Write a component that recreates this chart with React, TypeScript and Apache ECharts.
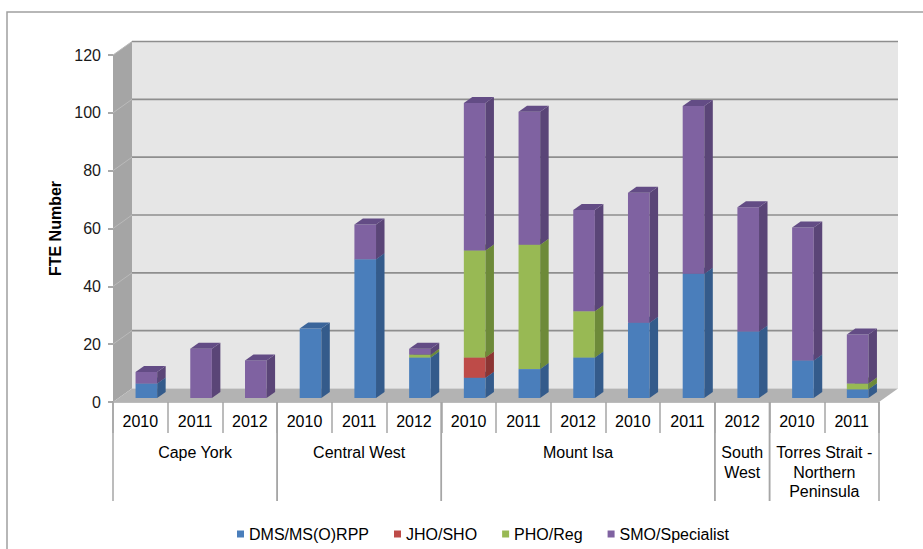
import React, { useEffect, useRef } from 'react';
import * as echarts from 'echarts';

// ---------- data ----------
const years = ['2010', '2011', '2012', '2010', '2011', '2012', '2010', '2011', '2012', '2010', '2011', '2012', '2010', '2011'];
const groupNames = ['Cape York', 'Central West', 'Mount Isa', 'South\nWest', 'Torres Strait -\nNorthern\nPeninsula'];
const groupSpans = [3, 3, 5, 1, 2];
const seriesNames = ['DMS/MS(O)RPP', 'JHO/SHO', 'PHO/Reg', 'SMO/Specialist'];
const dms = [5, 0, 0, 24, 48, 14, 7, 10, 14, 26, 43, 23, 13, 3];
const jho = [0, 0, 0, 0, 0, 0, 7, 0, 0, 0, 0, 0, 0, 0];
const pho = [0, 0, 0, 0, 0, 1, 37, 43, 16, 0, 0, 0, 0, 2];
const smo = [4, 17, 13, 0, 12, 2, 51, 46, 35, 45, 58, 43, 46, 17];
const yTicks = [0, 20, 40, 60, 80, 100, 120];

// ---------- styles ----------
const FONT = '"Liberation Sans", Arial, sans-serif';
const palette = [
  { front: '#4a7ebb', side: '#345b8b', top: '#3b659a' },
  { front: '#be4b48', side: '#8c3533', top: '#9c3e3b' },
  { front: '#98b954', side: '#6d8a39', top: '#7d9c43' },
  { front: '#7f62a1', side: '#5a4577', top: '#634c85' },
];
const WALL_DX = 19;
const WALL_DY = -13.5;
const BAR_SHIFT_X = 6;
const BAR_SHIFT_Y = -4;
const BAR_DX = 8.5;
const BAR_DY = -6;
const BAR_FRAC = 0.395;

export default function App() {
  const ref = useRef<HTMLDivElement>(null);

  useEffect(() => {
    if (!ref.current) return;
    const chart = echarts.init(ref.current, undefined, { renderer: 'svg' });

    const seriesValues = [dms, jho, pho, smo];
    const bases = years.map(() => 0);
    const barSeries = seriesValues.map((vals, si) => {
      const data = vals.map((v, i) => {
        const lo = bases[i];
        const hi = lo + v;
        bases[i] = hi;
        return [i, lo, hi];
      });
      const col = palette[si];
      return {
        type: 'custom',
        name: seriesNames[si],
        z: 3 + si,
        clip: false,
        itemStyle: { color: col.front },
        encode: { x: 0, y: 2 },
        data,
        renderItem: (params: any, api: any) => {
          const idx = api.value(0);
          const lo = api.value(1);
          const hi = api.value(2);
          if (hi - lo <= 0) return null;
          const bw = api.size([1, 0])[0];
          const p0 = api.coord([idx, lo]);
          const p1 = api.coord([idx, hi]);
          const cx = p0[0] + BAR_SHIFT_X;
          const w = bw * BAR_FRAC;
          const x0 = cx - w / 2;
          const x1 = cx + w / 2;
          const yb = p0[1] + BAR_SHIFT_Y;
          const yt = p1[1] + BAR_SHIFT_Y;
          return {
            type: 'group',
            children: [
              { type: 'rect', shape: { x: x0, y: yt, width: w, height: yb - yt }, style: { fill: col.front } },
              {
                type: 'polygon',
                shape: { points: [[x1, yb], [x1 + BAR_DX, yb + BAR_DY], [x1 + BAR_DX, yt + BAR_DY], [x1, yt]] },
                style: { fill: col.side },
              },
              {
                type: 'polygon',
                shape: { points: [[x0, yt], [x1, yt], [x1 + BAR_DX, yt + BAR_DY], [x0 + BAR_DX, yt + BAR_DY]] },
                style: { fill: col.top },
              },
            ],
          };
        },
      };
    });

    const wallSeries = {
      type: 'custom',
      name: 'walls',
      z: 1,
      clip: false,
      silent: true,
      data: [[0, 0]],
      encode: { x: 0, y: 1 },
      renderItem: (params: any, api: any) => {
        const cs = params.coordSys;
        const L = cs.x;
        const T = cs.y;
        const R = cs.x + cs.width;
        const B = cs.y + cs.height;
        const children: any[] = [
          { type: 'rect', shape: { x: L + WALL_DX, y: T + WALL_DY, width: R - L, height: B - T }, style: { fill: '#e6e6e6' } },
          {
            type: 'polygon',
            shape: { points: [[L, T], [L + WALL_DX, T + WALL_DY], [L + WALL_DX, B + WALL_DY], [L, B]] },
            style: { fill: '#a5a5a5' },
          },
          {
            type: 'polygon',
            shape: { points: [[L, B], [L + WALL_DX, B + WALL_DY], [R + WALL_DX, B + WALL_DY], [R, B]] },
            style: { fill: '#b3b3b3' },
          },
        ];
        yTicks.forEach((v) => {
          if (v === 0) return;
          const y = api.coord([0, v])[1];
          children.push({
            type: 'line',
            shape: { x1: L + WALL_DX, y1: y + WALL_DY, x2: R + WALL_DX, y2: y + WALL_DY },
            style: { stroke: '#8e8e8e', lineWidth: 1.6 },
          });
          children.push({
            type: 'line',
            shape: { x1: L, y1: y, x2: L + WALL_DX, y2: y + WALL_DY },
            style: { stroke: '#bababa', lineWidth: 1 },
          });
        });
        return { type: 'group', children };
      },
    };

    const groupData: number[][] = [];
    let s = 0;
    groupSpans.forEach((n, gi) => {
      groupData.push([s, s + n - 1, gi]);
      s += n;
    });

    const groupSeries = {
      type: 'custom',
      name: 'groups',
      z: 2,
      clip: false,
      silent: true,
      data: groupData,
      encode: { x: 0, y: 2 },
      renderItem: (params: any, api: any) => {
        const a = api.value(0);
        const b = api.value(1);
        const gi = api.value(2);
        const bw = api.size([1, 0])[0];
        const xl = api.coord([a, 0])[0] - bw / 2;
        const xr = api.coord([b, 0])[0] + bw / 2;
        const y0 = api.coord([a, 0])[1];
        return {
          type: 'group',
          children: [
            { type: 'line', shape: { x1: xl, y1: y0, x2: xl, y2: y0 + 99 }, style: { stroke: '#a6a6a6', lineWidth: 1.5 } },
            { type: 'line', shape: { x1: xr, y1: y0, x2: xr, y2: y0 + 99 }, style: { stroke: '#a6a6a6', lineWidth: 1.5 } },
            {
              type: 'text',
              x: (xl + xr) / 2,
              y: y0 + 41,
              style: {
                text: groupNames[gi],
                fill: '#000',
                font: `16px ${FONT}`,
                align: 'center',
                verticalAlign: 'top',
                lineHeight: 19.5,
              },
            },
          ],
        };
      },
    };

    chart.setOption({
      animation: false,
      textStyle: { fontFamily: FONT },
      graphic: [
        {
          type: 'rect',
          shape: { x: 7, y: 12, width: 1000, height: 1000 },
          style: { fill: 'none', stroke: '#a0a0a0', lineWidth: 1.5 },
          silent: true,
        },
      ],
      grid: { left: 113, right: 44, top: 55, bottom: 147 },
      legend: {
        data: seriesNames,
        left: 232,
        top: 521,
        icon: 'rect',
        itemWidth: 7,
        itemHeight: 7,
        itemGap: 25,
        textStyle: { fontSize: 16, color: '#000', fontFamily: FONT },
      },
      xAxis: {
        type: 'category',
        data: years.map((y, i) => `${y}#${i}`),
        boundaryGap: true,
        axisLine: { show: true, lineStyle: { color: '#a6a6a6', width: 1.5 } },
        axisTick: { show: true, length: 31, interval: 0, lineStyle: { color: '#a6a6a6', width: 1.5 } },
        axisLabel: {
          interval: 0,
          fontSize: 16,
          color: '#000',
          margin: 11,
          formatter: (v: string) => v.split('#')[0],
        },
        splitLine: { show: false },
      },
      yAxis: {
        type: 'value',
        min: 0,
        max: 120,
        interval: 20,
        name: 'FTE Number',
        nameLocation: 'middle',
        nameGap: 49,
        nameTextStyle: { fontSize: 16, fontWeight: 'bold', color: '#000', fontFamily: FONT },
        axisLine: { show: false },
        axisTick: { show: true, length: 5, lineStyle: { color: '#8c8c8c', width: 1.5 } },
        axisLabel: { fontSize: 16, color: '#1a1a1a', margin: 12 },
        splitLine: { show: false },
      },
      series: [wallSeries, groupSeries, ...barSeries],
    });

    return () => chart.dispose();
  }, []);

  return <div ref={ref} style={{ position: 'absolute', left: 0, top: 0, width: 923, height: 549 }} />;
}
